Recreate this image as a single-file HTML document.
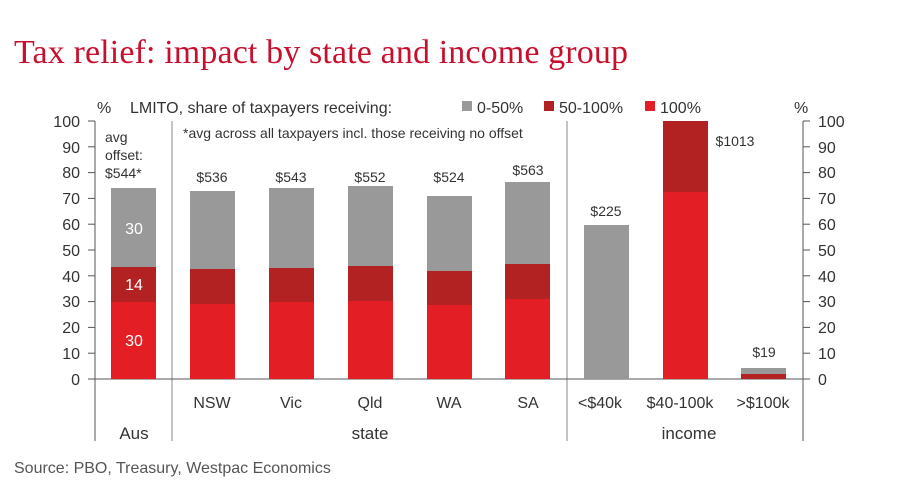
<!DOCTYPE html>
<html><head><style>
body{margin:0;background:#fff;}
svg text{font-family:"Liberation Sans",sans-serif;}
</style></head><body>
<svg width="912" height="496" viewBox="0 0 912 496" xmlns="http://www.w3.org/2000/svg">
<text x="14" y="63" font-size="34" fill="#c8102e" textLength="614" style="font-family:'Liberation Serif',serif">Tax relief: impact by state and income group</text>
<g font-size="16" fill="#333">
<text x="97" y="113">%</text>
<text x="130" y="113">LMITO, share of taxpayers receiving:</text>
<rect x="462" y="101" width="10" height="10" fill="#999"/><text x="477" y="113">0-50%</text>
<rect x="544" y="101" width="10" height="10" fill="#b22222"/><text x="559" y="113">50-100%</text>
<rect x="645" y="101" width="10" height="10" fill="#e31e24"/><text x="660" y="113">100%</text>
<text x="794" y="113">%</text>
</g>
<g stroke="#555" stroke-width="1" fill="none">
<line x1="95" y1="121" x2="95" y2="441"/>
<line x1="803" y1="121" x2="803" y2="441"/>
<line x1="172" y1="121" x2="172" y2="441" stroke="#888"/>
<line x1="567" y1="121" x2="567" y2="441" stroke="#888"/>
<line x1="88" y1="379" x2="810" y2="379"/>
</g>
<g stroke="#555">
<line x1="88" y1="121" x2="95" y2="121"/><line x1="88" y1="146.8" x2="95" y2="146.8"/><line x1="88" y1="172.6" x2="95" y2="172.6"/><line x1="88" y1="198.4" x2="95" y2="198.4"/><line x1="88" y1="224.2" x2="95" y2="224.2"/><line x1="88" y1="250" x2="95" y2="250"/><line x1="88" y1="275.8" x2="95" y2="275.8"/><line x1="88" y1="301.6" x2="95" y2="301.6"/><line x1="88" y1="327.4" x2="95" y2="327.4"/><line x1="88" y1="353.2" x2="95" y2="353.2"/>
<line x1="803" y1="121" x2="810" y2="121"/><line x1="803" y1="146.8" x2="810" y2="146.8"/><line x1="803" y1="172.6" x2="810" y2="172.6"/><line x1="803" y1="198.4" x2="810" y2="198.4"/><line x1="803" y1="224.2" x2="810" y2="224.2"/><line x1="803" y1="250" x2="810" y2="250"/><line x1="803" y1="275.8" x2="810" y2="275.8"/><line x1="803" y1="301.6" x2="810" y2="301.6"/><line x1="803" y1="327.4" x2="810" y2="327.4"/><line x1="803" y1="353.2" x2="810" y2="353.2"/>
</g>
<g font-size="16" fill="#333" text-anchor="end">
<text x="80" y="127">100</text><text x="80" y="153">90</text><text x="80" y="178">80</text><text x="80" y="204">70</text><text x="80" y="230">60</text><text x="80" y="256">50</text><text x="80" y="282">40</text><text x="80" y="307">30</text><text x="80" y="333">20</text><text x="80" y="359">10</text><text x="80" y="385">0</text>
</g>
<g font-size="16" fill="#333">
<text x="818" y="127">100</text><text x="818" y="153">90</text><text x="818" y="178">80</text><text x="818" y="204">70</text><text x="818" y="230">60</text><text x="818" y="256">50</text><text x="818" y="282">40</text><text x="818" y="307">30</text><text x="818" y="333">20</text><text x="818" y="359">10</text><text x="818" y="385">0</text>
</g>
<g>
<rect x="111" y="188" width="45" height="79" fill="#999"/><rect x="111" y="267" width="45" height="35" fill="#b22222"/><rect x="111" y="302" width="45" height="77" fill="#e31e24"/>
<rect x="190" y="191" width="45" height="78" fill="#999"/><rect x="190" y="269" width="45" height="35" fill="#b22222"/><rect x="190" y="304" width="45" height="75" fill="#e31e24"/>
<rect x="269" y="188" width="45" height="80" fill="#999"/><rect x="269" y="268" width="45" height="34" fill="#b22222"/><rect x="269" y="302" width="45" height="77" fill="#e31e24"/>
<rect x="348" y="186" width="45" height="80" fill="#999"/><rect x="348" y="266" width="45" height="35" fill="#b22222"/><rect x="348" y="301" width="45" height="78" fill="#e31e24"/>
<rect x="427" y="196" width="45" height="75" fill="#999"/><rect x="427" y="271" width="45" height="34" fill="#b22222"/><rect x="427" y="305" width="45" height="74" fill="#e31e24"/>
<rect x="505" y="182" width="45" height="82" fill="#999"/><rect x="505" y="264" width="45" height="35" fill="#b22222"/><rect x="505" y="299" width="45" height="80" fill="#e31e24"/>
<rect x="584" y="225" width="45" height="154" fill="#999"/>
<rect x="663" y="121" width="45" height="71" fill="#b22222"/><rect x="663" y="192" width="45" height="187" fill="#e31e24"/>
<rect x="741" y="368" width="45" height="6" fill="#999"/><rect x="741" y="374" width="45" height="5" fill="#b22222"/>
</g>
<g font-size="16" fill="#fff" text-anchor="middle">
<text x="134" y="234">30</text><text x="134" y="290">14</text><text x="134" y="346">30</text>
</g>
<g font-size="14" fill="#333" text-anchor="middle">
<text x="212" y="182">$536</text><text x="291" y="182">$543</text><text x="370" y="182">$552</text><text x="449" y="182">$524</text><text x="528" y="175">$563</text>
<text x="606" y="216">$225</text><text x="735" y="146">$1013</text><text x="764" y="357">$19</text>
</g>
<g font-size="14" fill="#333">
<text x="105" y="142">avg</text><text x="105" y="160">offset:</text><text x="105" y="178">$544*</text>
<text x="183" y="138">*avg across all taxpayers incl. those receiving no offset</text>
</g>
<g font-size="16" fill="#333" text-anchor="middle">
<text x="212" y="408">NSW</text><text x="291" y="408">Vic</text><text x="370" y="408">Qld</text><text x="449" y="408">WA</text><text x="528" y="408">SA</text>
<text x="600" y="408">&lt;$40k</text><text x="680" y="408">$40-100k</text><text x="763" y="408">&gt;$100k</text>
<text x="134" y="439" font-size="17">Aus</text><text x="370" y="439" font-size="17">state</text><text x="689" y="439" font-size="17">income</text>
</g>
<text x="14" y="473" font-size="16" fill="#555">Source: PBO, Treasury, Westpac Economics</text>
</svg>
</body></html>
